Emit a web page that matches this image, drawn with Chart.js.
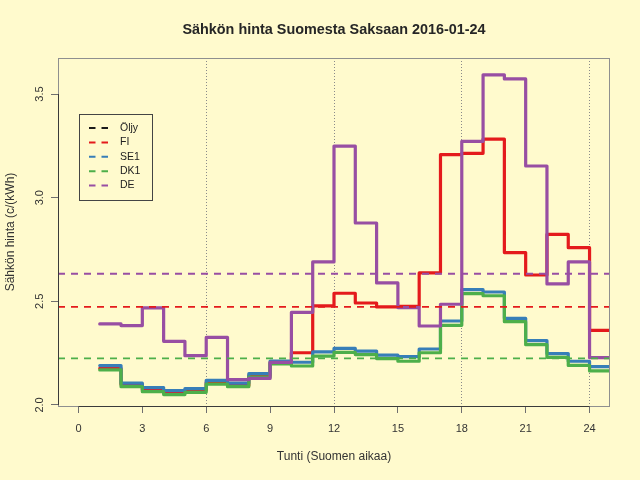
<!DOCTYPE html>
<html><head><meta charset="utf-8">
<script src="https://cdn.jsdelivr.net/npm/chart.js@4/dist/chart.umd.min.js"></script>
<style>html,body{margin:0;padding:0;background:#FFFACD;}canvas{display:block;}</style>
</head><body>
<canvas id="c" width="640" height="480"></canvas>
<script>
// ---- text ----
const titleText = 'Sähkön hinta Suomesta Saksaan 2016-01-24';
const xTitle = 'Tunti (Suomen aikaa)';
const yTitle = 'Sähkön hinta (c/(kWh)';

// ---- axes ----
const xTicks = [0, 3, 6, 9, 12, 15, 18, 21, 24];
const xDotted = [6, 12, 18, 24];
const yTicks = [2.0, 2.5, 3.0, 3.5];
const yTickLabels = ['2.0', '2.5', '3.0', '3.5'];
const xMin = -0.96, xMax = 24.96, yMin = 1.995, yMax = 3.674;

// ---- data (price c/kWh per hour; step starts at hour) ----
const hourStarts = [1, 2, 3, 4, 5, 6, 7, 8, 9, 10, 11, 12, 13, 14, 15, 16, 17, 18, 19, 20, 21, 22, 23, 24];
const dayEnd = 25;
const fiPrice = [2.177, 2.099, 2.072, 2.060, 2.071, 2.109, 2.094, 2.142, 2.205, 2.252, 2.478, 2.539, 2.492, 2.473, 2.476, 2.637, 3.208, 3.214, 3.283, 2.735, 2.627, 2.823, 2.759, 2.360];
const se1Price = [2.190, 2.105, 2.084, 2.069, 2.079, 2.119, 2.105, 2.151, 2.212, 2.206, 2.256, 2.273, 2.260, 2.240, 2.233, 2.270, 2.405, 2.556, 2.545, 2.418, 2.310, 2.248, 2.211, 2.185];
const dk1Price = [2.169, 2.088, 2.064, 2.050, 2.061, 2.101, 2.088, 2.134, 2.198, 2.188, 2.236, 2.254, 2.243, 2.224, 2.211, 2.252, 2.384, 2.537, 2.527, 2.402, 2.291, 2.230, 2.191, 2.164];
const dePrice = [2.391, 2.383, 2.468, 2.307, 2.238, 2.326, 2.122, 2.128, 2.205, 2.447, 2.690, 3.249, 2.878, 2.589, 2.470, 2.381, 2.486, 3.272, 3.593, 3.573, 3.153, 2.584, 2.690, 2.228];

// reference (dashed) levels
const refNames = ['FI', 'DK1', 'DE'];
const refLevels = [2.473, 2.225, 2.633];

// legend
const legendNames = ['Öljy', 'FI', 'SE1', 'DK1', 'DE'];

// ---- styles ----
const FONT = '"Liberation Sans", Arial, Helvetica, sans-serif';
const colors = { 'Öljy': '#1a1a1a', 'FI': '#E41A1C', 'SE1': '#377EB8', 'DK1': '#4DAF4A', 'DE': '#984EA3' };
const BG = '#FFFACD';

function stepPoints(values) {
  const pts = values.map((v, i) => ({ x: hourStarts[i], y: v }));
  pts.push({ x: dayEnd, y: values[values.length - 1] });
  return pts;
}

const series = [
  { name: 'FI', values: fiPrice, order: 4 },
  { name: 'SE1', values: se1Price, order: 3 },
  { name: 'DK1', values: dk1Price, order: 2 },
  { name: 'DE', values: dePrice, order: 1 }
];

const datasets = series.map(s => ({
  label: s.name,
  data: stepPoints(s.values),
  stepped: true,
  borderColor: colors[s.name],
  borderWidth: 3.2,
  borderCapStyle: 'round',
  borderJoinStyle: 'round',
  pointRadius: 0,
  fill: false,
  clip: 0,
  order: s.order
}));

refNames.forEach((n, i) => {
  datasets.push({
    label: n + ' ref',
    data: [{ x: xMin, y: refLevels[i] }, { x: xMax, y: refLevels[i] }],
    borderColor: colors[n],
    borderWidth: 1.8,
    borderDash: [7, 6],
    pointRadius: 0,
    fill: false,
    clip: 0,
    order: 0
  });
});

const rDecor = {
  id: 'rDecor',
  beforeDraw(chart) {
    const c = chart.ctx;
    c.save(); c.fillStyle = BG; c.fillRect(0, 0, chart.width, chart.height); c.restore();
  },
  afterDraw(chart) {
    const { ctx, chartArea: a, scales: { x, y } } = chart;
    ctx.save();
    // box
    ctx.strokeStyle = '#8f8f8f'; ctx.lineWidth = 1;
    ctx.strokeRect(a.left + 0.5, a.top + 0.5, a.right - a.left - 1, a.bottom - a.top);
    // axis lines
    ctx.strokeStyle = '#3a3a3a';
    ctx.beginPath();
    ctx.moveTo(x.getPixelForValue(xTicks[0]), a.bottom + 0.5);
    ctx.lineTo(x.getPixelForValue(xTicks[xTicks.length - 1]), a.bottom + 0.5);
    ctx.moveTo(a.left + 0.5, y.getPixelForValue(yTicks[0]));
    ctx.lineTo(a.left + 0.5, y.getPixelForValue(yTicks[yTicks.length - 1]));
    ctx.stroke();
    // y tick labels (rotated, R style)
    ctx.fillStyle = '#333';
    ctx.font = '11px ' + FONT;
    ctx.textAlign = 'center'; ctx.textBaseline = 'alphabetic';
    yTicks.forEach((v, i) => {
      ctx.save();
      ctx.translate(42.5, y.getPixelForValue(v));
      ctx.rotate(-Math.PI / 2);
      ctx.fillText(yTickLabels[i], 0, 0);
      ctx.restore();
    });
    const cx = (a.left + a.right) / 2;
    // title
    ctx.fillStyle = '#262626';
    ctx.font = 'bold 14.4px ' + FONT;
    ctx.fillText(titleText, cx, 34);
    // x title
    ctx.font = '12px ' + FONT;
    ctx.fillStyle = '#333';
    ctx.fillText(xTitle, cx, 460);
    // y title
    ctx.save();
    ctx.translate(13.5, (a.top + a.bottom) / 2);
    ctx.rotate(-Math.PI / 2);
    ctx.fillText(yTitle, 0, 0);
    ctx.restore();
    // legend
    ctx.strokeStyle = '#444'; ctx.lineWidth = 1;
    ctx.strokeRect(79.5, 114.5, 73, 86);
    ctx.font = '10.5px ' + FONT;
    ctx.textAlign = 'left'; ctx.textBaseline = 'middle';
    legendNames.forEach((n, i) => {
      const ly = 128 + i * 14.4;
      ctx.save();
      ctx.strokeStyle = colors[n]; ctx.lineWidth = 2; ctx.setLineDash([6.5, 6]);
      ctx.beginPath(); ctx.moveTo(89, ly); ctx.lineTo(108.5, ly); ctx.stroke();
      ctx.restore();
      ctx.fillStyle = '#222';
      ctx.fillText(n, 120, ly);
    });
    ctx.restore();
  }
};

new Chart(document.getElementById('c'), {
  type: 'line',
  data: { datasets },
  options: {
    responsive: false,
    animation: false,
    layout: { padding: { top: 58, right: 30, left: 0, bottom: 0 } },
    plugins: { legend: { display: false }, title: { display: false }, tooltip: { enabled: false } },
    elements: { point: { radius: 0 }, line: { tension: 0 } },
    scales: {
      x: {
        type: 'linear', min: xMin, max: xMax,
        afterBuildTicks: (s) => { s.ticks = xTicks.map(v => ({ value: v })); },
        ticks: { autoSkip: false, maxRotation: 0, minRotation: 0, padding: 9, color: '#333', font: { family: FONT, size: 11 }, callback: (v) => String(v) },
        grid: {
          drawOnChartArea: true, drawTicks: true, tickLength: 7, tickColor: '#6f6f6f', tickWidth: 1, lineWidth: 1,
          color: (c) => (c.tick && xDotted.includes(c.tick.value)) ? '#8a8a8a' : 'rgba(0,0,0,0)'
        },
        border: { display: false, dash: [1, 2] },
        afterFit: (s) => { s.height = 74; }
      },
      y: {
        type: 'linear', min: yMin, max: yMax,
        afterBuildTicks: (s) => { s.ticks = yTicks.map(v => ({ value: v })); },
        ticks: { color: 'rgba(0,0,0,0)', font: { family: FONT, size: 11 }, padding: 0 },
        grid: { drawOnChartArea: false, drawTicks: true, tickLength: 7, tickColor: '#6f6f6f' },
        border: { display: false },
        afterFit: (s) => { s.width = 58; }
      }
    }
  },
  plugins: [rDecor]
});
</script>
</body></html>
